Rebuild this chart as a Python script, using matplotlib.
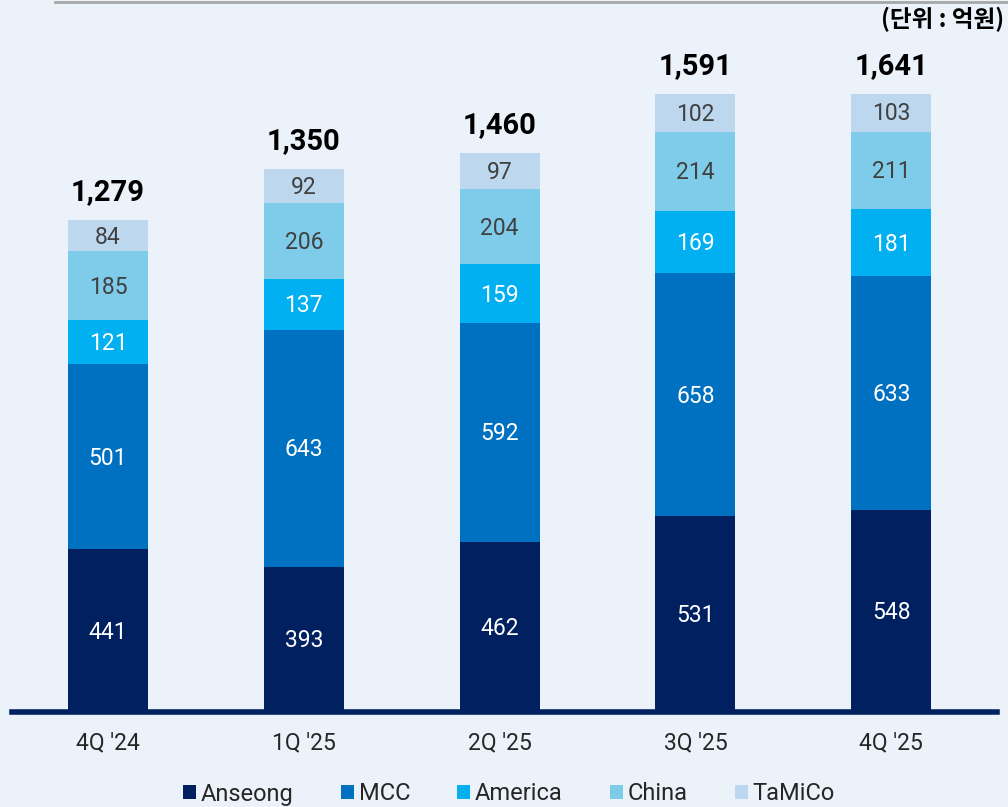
import numpy as np
import matplotlib.pyplot as plt
from matplotlib.patches import Patch

plt.rcParams['font.family'] = ['Roboto', 'Noto Sans CJK KR', 'DejaVu Sans']

quarters = ["4Q '24", "1Q '25", "2Q '25", "3Q '25", "4Q '25"]
series = ["Anseong", "MCC", "America", "China", "TaMiCo"]
anseong = [441, 393, 462, 531, 548]
mcc = [501, 643, 592, 658, 633]
america = [121, 137, 159, 169, 181]
china = [185, 206, 204, 214, 211]
tamico = [84, 92, 97, 102, 103]
totals = [1279, 1350, 1460, 1591, 1641]

colors = ["#002060", "#0070C0", "#00B0F0", "#7FCCEA", "#BDD7EE"]
text_colors = ["white", "white", "white", "#404040", "#404040"]
bg = "#ECF2FA"

fig = plt.figure(figsize=(10.08, 8.07), dpi=100, facecolor=bg)
ax = fig.add_axes([12/1008, 95/807, 985/1008, 710/807])
ax.set_facecolor(bg)

x = np.arange(len(quarters))
bottom = np.zeros(len(quarters))
for vals, c, tc in zip([anseong, mcc, america, china, tamico], colors, text_colors):
    vals = np.array(vals)
    ax.bar(x, vals, 0.409, bottom=bottom, color=c, zorder=2)
    for xi, b, v in zip(x, bottom, vals):
        ax.text(xi, b + v/2 - 4, str(v), ha="center", va="center", color=tc, fontsize=16.5)
    bottom = bottom + vals

for xi, top, t in zip(x, bottom, totals):
    ax.annotate(f"{t:,}", (xi, top), xytext=(0, 10), textcoords="offset points",
                ha="center", va="bottom", fontsize=21, fontweight="bold", color="black")

ax.set_xlim(-0.49, 4.54)
ax.set_ylim(0, 1924)
ax.set_yticks([])
ax.set_xticks(x)
ax.set_xticklabels(quarters, fontsize=16.5, color="#262626")
ax.tick_params(axis="x", length=0, pad=14)
for s in ["top", "right", "left"]:
    ax.spines[s].set_visible(False)
ax.spines["bottom"].set_color("#002060")
ax.spines["bottom"].set_linewidth(4)
ax.spines["bottom"].set_zorder(3)

# gray line at top
fig.add_artist(plt.Line2D([55/1008, 1], [1 - 1.5/807, 1 - 1.5/807], color="#A6A6A6", lw=2))

fig.text(1004/1008, 1 - 19/807, "(단위 : 억원)", ha="right", va="center",
         fontsize=17, fontweight="bold", family=["Noto Sans CJK KR", "DejaVu Sans"])

handles = [Patch(facecolor=c, edgecolor="none", label=s) for s, c in zip(series, colors)]
fig.legend(handles=handles, loc="center", bbox_to_anchor=(509/1008, 1 - 794/807), ncol=5,
           frameon=False, fontsize=17, handlelength=0.55, handleheight=0.55,
           handletextpad=0.2, columnspacing=2.0, labelcolor="#262626")

fig.savefig("out.png", dpi=100, facecolor=bg)
